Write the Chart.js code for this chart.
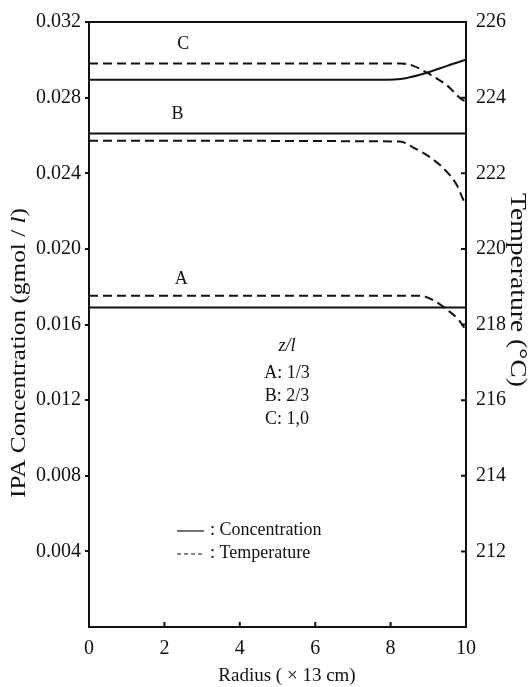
<!DOCTYPE html>
<html>
<head>
<meta charset="utf-8">
<script src="https://cdn.jsdelivr.net/npm/chart.js@4/dist/chart.umd.min.js"></script>
<style>
  html, body { margin: 0; padding: 0; background: #fff; }
  #wrap { width: 529px; height: 687px; }
</style>
</head>
<body>
<div id="wrap"><canvas id="c" width="529" height="687"></canvas></div>
<script>
// radius in units of 13 cm
const concRadiusA = [0, 10];
const concA = [0.0169, 0.0169];
const concRadiusB = [0, 10];
const concB = [0.0261, 0.0261];
const concRadiusC = [0, 7.7, 8.4, 9.05, 9.5, 10];
const concC = [0.02895, 0.02895, 0.02903, 0.02937, 0.02968, 0.0300];

const tempRadiusA = [0, 8.8, 9.2, 9.5, 9.8, 10];
const tempA = [218.76, 218.76, 218.6, 218.39, 218.13, 217.85];
const tempRadiusB = [0, 8.25, 8.6, 9.05, 9.5, 9.76, 9.92, 10];
const tempB = [222.86, 222.84, 222.68, 222.42, 222.03, 221.68, 221.32, 221.16];
const tempRadiusC = [0, 8.3, 8.6, 9.05, 9.5, 9.89, 10];
const tempC = [224.9, 224.9, 224.84, 224.61, 224.32, 223.95, 223.9];

const xTicks = [0, 2, 4, 6, 8, 10];
const concTicks = [0.004, 0.008, 0.012, 0.016, 0.020, 0.024, 0.028, 0.032];
const tempTicks = [212, 214, 216, 218, 220, 222, 224, 226];

const curveLabels = [
  { text: 'C', r: 2.5, conc: 0.0308 },
  { text: 'B', r: 2.35, conc: 0.0271 },
  { text: 'A', r: 2.45, conc: 0.0184 }
];
const noteLines = ['A: 1/3', 'B: 2/3', 'C: 1,0'];

const SERIF = '"Liberation Serif", "DejaVu Serif", serif';

function pts(xs, ys) {
  return xs.map((x, i) => ({ x: x, y: ys[i] }));
}

function concSet(label, xs, ys) {
  return {
    label: label, data: pts(xs, ys), yAxisID: 'y',
    borderColor: '#111', borderWidth: 2, pointRadius: 0,
    cubicInterpolationMode: 'monotone', fill: false
  };
}
function tempSet(label, xs, ys) {
  return {
    label: label, data: pts(xs, ys), yAxisID: 'y2',
    borderColor: '#111', borderWidth: 2, borderDash: [9, 5], pointRadius: 0,
    cubicInterpolationMode: 'monotone', fill: false
  };
}

// frame, inward ticks and the free text of the figure
const decor = {
  id: 'decor',
  afterDatasetsDraw(chart) {
    const ctx = chart.ctx;
    const a = chart.chartArea;
    const xs = chart.scales.x, ys = chart.scales.y, y2 = chart.scales.y2;
    ctx.save();
    ctx.strokeStyle = '#111';
    ctx.lineWidth = 2;
    ctx.strokeRect(a.left, a.top, a.right - a.left, a.bottom - a.top);

    ctx.beginPath();
    xTicks.slice(1, -1).forEach(v => {
      const px = xs.getPixelForValue(v);
      ctx.moveTo(px, a.bottom); ctx.lineTo(px, a.bottom - 5);
    });
    tempTicks.slice(0, -1).forEach(v => {
      const py = y2.getPixelForValue(v);
      ctx.moveTo(a.right - 5, py); ctx.lineTo(a.right + 1, py);
    });
    ctx.stroke();

    ctx.fillStyle = '#111';
    ctx.textAlign = 'center';
    ctx.textBaseline = 'middle';
    ctx.font = '18px ' + SERIF;
    curveLabels.forEach(l => {
      ctx.fillText(l.text, xs.getPixelForValue(l.r), ys.getPixelForValue(l.conc));
    });

    ctx.font = 'italic 18px ' + SERIF;
    ctx.fillText('z/l', 287, 346);
    ctx.font = '18px ' + SERIF;
    noteLines.forEach((t, i) => ctx.fillText(t, 287, 373 + i * 23));

    // legend key
    ctx.lineWidth = 1.2;
    ctx.beginPath();
    ctx.moveTo(177, 531); ctx.lineTo(204, 531);
    ctx.stroke();
    ctx.setLineDash([4, 3]);
    ctx.beginPath();
    ctx.moveTo(177, 554); ctx.lineTo(204, 554);
    ctx.stroke();
    ctx.setLineDash([]);
    ctx.textAlign = 'left';
    ctx.fillText(': Concentration', 210, 530);
    ctx.fillText(': Temperature', 210, 553);

    // axis titles
    ctx.textAlign = 'center';
    ctx.font = '19px ' + SERIF;
    ctx.fillText('Radius ( \u00d7 13 cm)', 287, 676);

    ctx.save();
    ctx.translate(19, 353);
    ctx.rotate(-Math.PI / 2);
    ctx.scale(1.15, 1);
    ctx.textAlign = 'left';
    const p1 = 'IPA Concentration (gmol / ';
    ctx.font = '22px ' + SERIF;
    const w1 = ctx.measureText(p1).width;
    ctx.font = 'italic 22px ' + SERIF;
    const w2 = ctx.measureText('l').width;
    ctx.font = '22px ' + SERIF;
    const w3 = ctx.measureText(')').width;
    const x0 = -(w1 + w2 + w3) / 2;
    ctx.fillText(p1, x0, 0);
    ctx.font = 'italic 22px ' + SERIF;
    ctx.fillText('l', x0 + w1, 0);
    ctx.font = '22px ' + SERIF;
    ctx.fillText(')', x0 + w1 + w2, 0);
    ctx.restore();

    ctx.save();
    ctx.translate(517, 290);
    ctx.rotate(Math.PI / 2);
    ctx.scale(1.2, 1);
    ctx.font = '23px ' + SERIF;
    ctx.fillText('Temperature (\u00b0C)', 0, 0);
    ctx.restore();

    ctx.restore();
  }
};

new Chart(document.getElementById('c'), {
  type: 'line',
  data: {
    datasets: [
      concSet('Concentration A', concRadiusA, concA),
      concSet('Concentration B', concRadiusB, concB),
      concSet('Concentration C', concRadiusC, concC),
      tempSet('Temperature A', tempRadiusA, tempA),
      tempSet('Temperature B', tempRadiusB, tempB),
      tempSet('Temperature C', tempRadiusC, tempC)
    ]
  },
  options: {
    responsive: false,
    animation: false,
    layout: { padding: { top: 19, left: 0, right: 0, bottom: 0 } },
    plugins: { legend: { display: false }, tooltip: { enabled: false } },
    scales: {
      x: {
        type: 'linear', min: 0, max: 10,
        afterBuildTicks: s => { s.ticks = xTicks.map(v => ({ value: v })); },
        grid: { display: true, drawOnChartArea: false, drawTicks: false },
        border: { display: false },
        ticks: { color: '#111', padding: 10, font: { family: SERIF, size: 20 } },
        afterFit: s => { s.height = 60; }
      },
      y: {
        position: 'left', min: 0, max: 0.032,
        afterBuildTicks: s => { s.ticks = concTicks.map(v => ({ value: v })); },
        grid: { drawOnChartArea: false, drawTicks: true, tickLength: 4, color: '#111', lineWidth: 2 },
        border: { display: false },
        ticks: {
          color: '#111', padding: 4, font: { family: SERIF, size: 20 },
          callback: v => v.toFixed(3)
        },
        afterFit: s => { s.width = 89; }
      },
      y2: {
        position: 'right', min: 210, max: 226,
        afterBuildTicks: s => { s.ticks = tempTicks.map(v => ({ value: v })); },
        grid: { drawOnChartArea: false, drawTicks: false },
        border: { display: false },
        ticks: { color: '#111', padding: 10, font: { family: SERIF, size: 20 } },
        afterFit: s => { s.width = 63; }
      }
    }
  },
  plugins: [decor]
});
</script>
</body>
</html>
